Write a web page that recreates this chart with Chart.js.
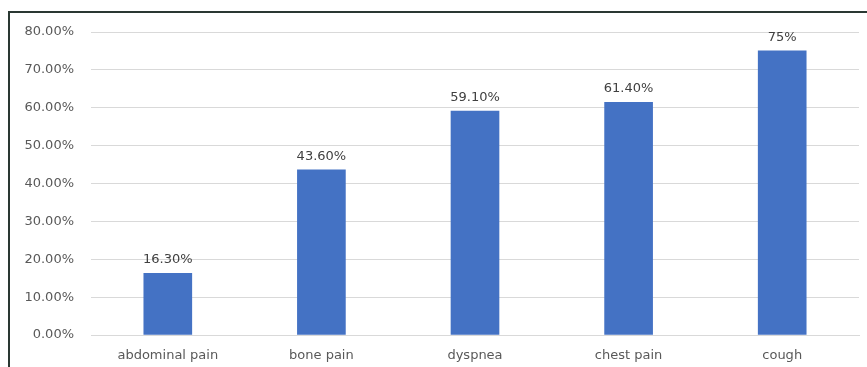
<!DOCTYPE html>
<html>
<head>
<meta charset="utf-8">
<script src="https://cdn.jsdelivr.net/npm/chart.js"></script>
<style>
  html, body { margin: 0; padding: 0; background: #fff; overflow: hidden; }
  .frame {
    position: absolute; left: 8px; top: 11px; width: 870px; height: 370px;
    border-top: 2px solid #2a3832; border-left: 2px solid #2a3832;
  }
  .wrap { position: absolute; left: 0; top: 0; width: 867px; height: 367px; }
</style>
</head>
<body>
<div class="frame"></div>
<div class="wrap"><canvas class="grafico"></canvas></div>
<script>
const canvas = document.querySelector('.grafico');

const categorias = ["abdominal pain", "bone pain", "dyspnea", "chest pain", "cough"];
const valores = [16.3, 43.6, 59.1, 61.4, 75];
const etiquetas = ["16.30%", "43.60%", "59.10%", "61.40%", "75%"];
const ticksY = [0, 10, 20, 30, 40, 50, 60, 70, 80];

const fuente = "'DejaVu Sans', sans-serif";

// etiquetas encima de cada barra
const etiquetasBarras = {
    id: 'etiquetasBarras',
    afterDatasetsDraw(chart) {
        const ctx = chart.ctx;
        const meta = chart.getDatasetMeta(0);
        ctx.save();
        ctx.font = `13px ${fuente}`;
        ctx.fillStyle = '#404040';
        ctx.textAlign = 'center';
        ctx.textBaseline = 'bottom';
        meta.data.forEach((bar, i) => {
            ctx.fillText(etiquetas[i], bar.x, bar.y - 7);
        });
        ctx.restore();
    }
};

const config = {
    type: "bar",
    data: {
        labels: categorias,
        datasets: [{
            data: valores,
            backgroundColor: "#4472c4",
            barThickness: 48,
        }]
    },
    options: {
        responsive: true,
        maintainAspectRatio: false,
        animation: false,
        layout: { padding: { top: 32, right: 8, left: 0, bottom: 0 } },
        plugins: { legend: { display: false }, tooltip: { enabled: false } },
        scales: {
            x: {
                grid: { display: false, drawTicks: false },
                border: { color: '#d9d9d9', width: 1 },
                ticks: { color: '#595959', font: { family: fuente, size: 13 }, padding: 13 },
                afterFit: (scale) => { scale.height = 32; }
            },
            y: {
                min: 0,
                max: 80,
                afterBuildTicks: (scale) => { scale.ticks = ticksY.map(v => ({ value: v })); },
                grid: { color: '#d9d9d9', drawTicks: false },
                border: { display: false },
                ticks: {
                    color: '#595959',
                    font: { family: fuente, size: 13 },
                    padding: 17,
                    callback: (v) => v.toFixed(2) + '%'
                },
                afterFit: (scale) => { scale.width = 91; }
            }
        }
    },
    plugins: [etiquetasBarras]
};

new Chart(canvas, config);
</script>
</body>
</html>
